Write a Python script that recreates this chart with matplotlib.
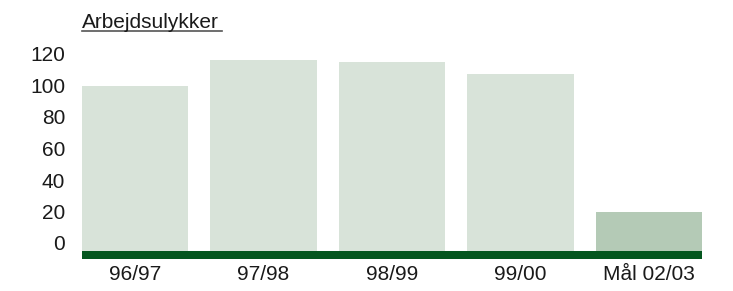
import matplotlib.pyplot as plt
from matplotlib.lines import Line2D

plt.rcParams['font.family'] = ['Liberation Sans', 'DejaVu Sans']

# data
periods = ['96/97', '97/98', '98/99', '99/00', 'Mål 02/03']
accidents = [100, 116, 115, 107, 20]
yticks = [0, 20, 40, 60, 80, 100, 120]
title = 'Arbejdsulykker'

light = '#d8e3d9'
target = '#b4cab6'
band = '#04561f'
txt = '#1a1a1a'

W, H = 733, 291
fig = plt.figure(figsize=(W / 100, H / 100), dpi=100)
fig.patch.set_facecolor('white')

# axes placed in pixels: x 82..702, y 40..259 (from top)
ax = fig.add_axes([82 / W, (H - 259) / H, 620 / W, 219 / H])

ppu = 1.575  # pixels per unit
ymin = -(259 - 243) / ppu
ymax = (243 - 40) / ppu
below = (251 - 243) / ppu  # bars run a little below zero down to the band

width = 0.825
x = list(range(len(periods)))
colors = [light] * (len(periods) - 1) + [target]
ax.bar(x, [v + below for v in accidents], bottom=-below, width=width,
       color=colors, linewidth=0)
ax.axhspan(ymin, -below, color=band, linewidth=0)

ax.set_xlim(-width / 2, len(periods) - 1 + width / 2)
ax.set_ylim(ymin, ymax)

ax.set_yticks(yticks)
ax.set_yticklabels([str(t) for t in yticks], fontsize=15, color=txt)
ax.set_xticks(x)
ax.set_xticklabels(periods, fontsize=15, color=txt)
ax.tick_params(axis='y', length=0, pad=12)
ax.tick_params(axis='x', length=0, pad=4)
for s in ax.spines.values():
    s.set_visible(False)

fig.text(82 / W, (H - 28) / H, title, fontsize=15, color=txt,
         ha='left', va='baseline')
fig.add_artist(Line2D([82 / W, 222 / W], [(H - 30.5) / H] * 2,
                      color='#555555', linewidth=1.2))

fig.savefig('out.png', dpi=100, facecolor='white')
